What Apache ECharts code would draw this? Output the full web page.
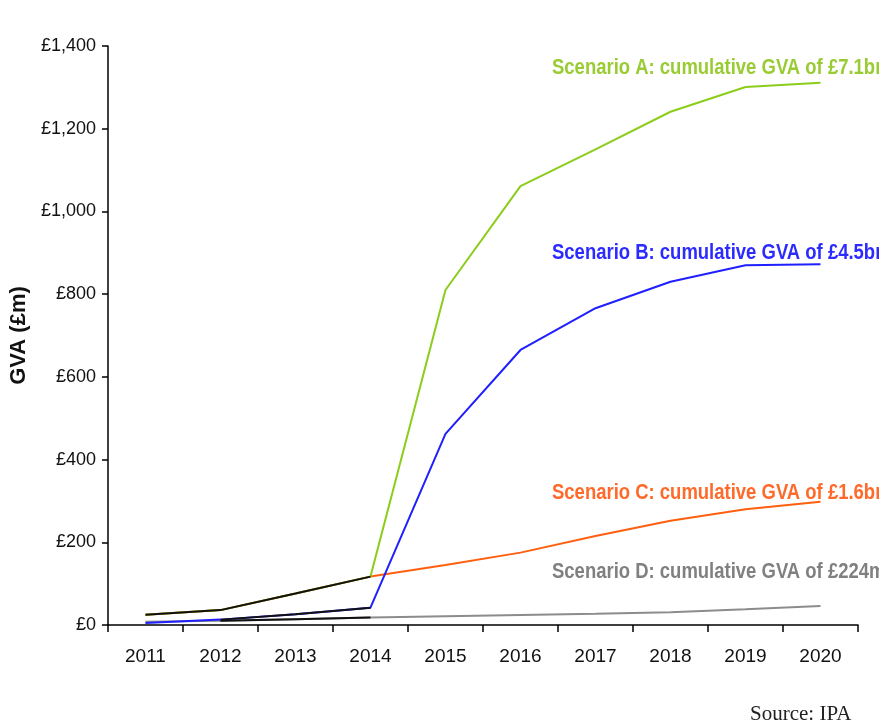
<!DOCTYPE html>
<html>
<head>
<meta charset="utf-8">
<script src="https://cdn.jsdelivr.net/npm/echarts@6/dist/echarts.min.js"></script>
<style>
  html, body { margin: 0; padding: 0; background: #fff; }
  #GvaChart { width: 879px; height: 727px; }
</style>
</head>
<body>
<div id="GvaChart"></div>
<script>
// years on the x axis
const years = ["2011", "2012", "2013", "2014", "2015", "2016", "2017", "2018", "2019", "2020"];

// GVA (£m) per year
const scenarioA = [25, 36, 76, 117, 810, 1061, 1150, 1241, 1301, 1311];
const scenarioB = [5, 13, 26, 42, 462, 665, 766, 830, 870, 872];
const scenarioC = [25, 36, 76, 117, 145, 175, 215, 252, 280, 298];
const scenarioD = [8, 10, 14, 18, 21, 24, 27, 31, 38, 46];

const scenarioLabels = [
  "Scenario A: cumulative GVA of £7.1bn",
  "Scenario B: cumulative GVA of £4.5bn",
  "Scenario C: cumulative GVA of £1.6bn",
  "Scenario D: cumulative GVA of £224m",
];

// historic part (up to 2014) is drawn black on top
function history(arr, from) {
  return arr.map((v, i) => (i >= from && i <= 3 ? v : null));
}

function lineSeries(name, data, color) {
  return {
    name: name,
    type: "line",
    symbol: "none",
    smooth: false,
    data: data,
    lineStyle: { color: color, width: 2 },
    itemStyle: { color: color },
  };
}

// condensed bold label, the font in the picture is a narrow one
function labelText(text, top, color) {
  return {
    type: "text",
    x: 552,
    y: top,
    scaleX: 0.84,
    style: {
      text: text,
      fill: color,
      font: "bold 22px 'Liberation Sans', Arial, sans-serif",
    },
  };
}

let dom = document.getElementById("GvaChart");
let myChart = echarts.init(dom);
let option = {
  animation: false,
  grid: { left: 107, right: 21, top: 46, bottom: 102 },
  xAxis: {
    type: "category",
    data: years,
    boundaryGap: true,
    axisLine: { lineStyle: { color: "#000", width: 1.5 } },
    axisTick: { show: true, length: 7, lineStyle: { color: "#000", width: 1.5 } },
    axisLabel: {
      margin: 22,
      color: "#111",
      fontSize: 19,
      fontFamily: "'Liberation Sans', Arial, sans-serif",
    },
  },
  yAxis: {
    type: "value",
    min: 0,
    max: 1400,
    interval: 200,
    name: "GVA (£m)",
    nameLocation: "middle",
    nameGap: 77,
    nameRotate: 90,
    nameTextStyle: {
      fontSize: 22,
      fontWeight: "bold",
      color: "#111",
      fontFamily: "'Liberation Sans', Arial, sans-serif",
    },
    splitLine: { show: false },
    axisLine: { show: true, lineStyle: { color: "#000", width: 1.5 } },
    axisTick: { show: true, length: 6, lineStyle: { color: "#000", width: 1.5 } },
    axisLabel: {
      margin: 12,
      color: "#111",
      fontSize: 18,
      fontFamily: "'Liberation Sans', Arial, sans-serif",
      formatter: (v) => "£" + v.toLocaleString("en-GB"),
    },
  },
  series: [
    lineSeries("Scenario D", scenarioD, "#8c8c8c"),
    lineSeries("Scenario C", scenarioC, "#ff5f0f"),
    lineSeries("Scenario B", scenarioB, "#1f1fff"),
    lineSeries("Scenario A", scenarioA, "#8ccc1a"),
    lineSeries("History D", history(scenarioD, 1), "#111"),
    lineSeries("History B", history(scenarioB, 1), "#111"),
    lineSeries("History A", history(scenarioA, 0), "#111"),
  ],
  graphic: [
    labelText(scenarioLabels[0], 57, "#99cc33"),
    labelText(scenarioLabels[1], 242, "#2b2bff"),
    labelText(scenarioLabels[2], 482, "#ff6a2a"),
    labelText(scenarioLabels[3], 561, "#808080"),
    {
      type: "text",
      x: 750,
      y: 704,
      style: {
        text: "Source: IPA",
        fill: "#222",
        font: "21px 'Liberation Serif', 'Times New Roman', serif",
      },
    },
  ],
};

if (option && typeof option === "object") {
  myChart.setOption(option);
}
</script>
</body>
</html>
